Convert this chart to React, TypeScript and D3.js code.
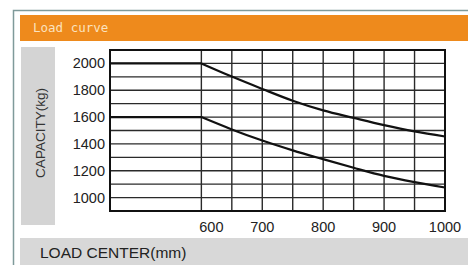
import React from "react";
import * as d3 from "d3";

// load center (mm); 450 stands for the left edge, the chart is compressed below 600
const loadCenters = [450, 600, 650, 700, 750, 800, 850, 900, 950, 1000];
const upperCapacity = [2000, 2000, 1902, 1810, 1722, 1650, 1594, 1540, 1493, 1455];
const lowerCapacity = [1600, 1600, 1508, 1425, 1352, 1286, 1222, 1162, 1115, 1075];

const xGrid = [600, 650, 700, 750, 800, 850, 900, 950];
const xTickLabels = [600, 700, 800, 900, 1000];
const yGrid = [1000, 1100, 1200, 1300, 1400, 1500, 1600, 1700, 1800, 1900, 2000];
const yTickLabels = [1000, 1200, 1400, 1600, 1800, 2000];

const title = "Load curve";
const yTitle = "CAPACITY(kg)";
const xTitle = "LOAD CENTER(mm)";

export default function App() {
  const width = 468;
  const height = 265;
  const plot = { left: 110, right: 445, top: 50, bottom: 211 };

  const xScale = d3.scaleLinear().domain([450, 1000]).range([plot.left, plot.right]);
  const yScale = d3.scaleLinear().domain([900, 2100]).range([plot.bottom, plot.top]);

  const curve = d3
    .line<[number, number]>()
    .x((d) => xScale(d[0]))
    .y((d) => yScale(d[1]))
    .curve(d3.curveMonotoneX);

  // flat part up to 600 drawn straight, the rest as a smooth curve
  const series = [upperCapacity, lowerCapacity].map((vals) =>
    loadCenters.map((x, i) => [x, vals[i]] as [number, number])
  );

  const gridColor = "#2a2a2a";
  const numFont = "'Liberation Sans', Arial, sans-serif";

  return (
    <svg
      width={width}
      height={height}
      style={{ position: "absolute", left: 0, top: 0, background: "#fff" }}
    >
      {/* outer frame */}
      <path d={`M13.5 ${height} V10.5 H${width}`} stroke="#7f9a9a" strokeWidth={1.5} fill="none" />

      {/* header bar */}
      <rect x={20} y={15} width={width - 20} height={26} fill="#ee8a1c" />
      <text
        x={33}
        y={32}
        fill="#fbe2bf"
        style={{ fontFamily: "'DejaVu Sans Mono', monospace", fontSize: "12.5px" }}
      >
        {title}
      </text>

      {/* y title bar */}
      <rect x={21} y={47} width={34} height={178} fill="#d4d4d4" />
      <text
        transform={`translate(45,133) rotate(-90)`}
        textAnchor="middle"
        fill="#333"
        style={{ fontFamily: numFont, fontSize: "13.5px" }}
      >
        {yTitle}
      </text>

      {/* x title bar */}
      <rect x={20} y={238} width={width - 20} height={height - 238} fill="#d8d8d8" />
      <text x={40} y={258} fill="#222" style={{ fontFamily: numFont, fontSize: "15.5px" }}>
        {xTitle}
      </text>

      {/* grid */}
      <g stroke={gridColor} strokeWidth={1.4}>
        {yGrid.map((v) => (
          <line key={"h" + v} x1={plot.left} x2={plot.right} y1={yScale(v)} y2={yScale(v)} />
        ))}
        {xGrid.map((v) => (
          <line key={"v" + v} x1={xScale(v)} x2={xScale(v)} y1={plot.top} y2={plot.bottom} />
        ))}
      </g>
      <rect
        x={plot.left}
        y={plot.top}
        width={plot.right - plot.left}
        height={plot.bottom - plot.top}
        fill="none"
        stroke="#111"
        strokeWidth={2}
      />

      {/* curves */}
      {series.map((pts, i) => (
        <g key={"s" + i} stroke="#111" strokeWidth={2.2} fill="none">
          <path d={d3.line()(pts.slice(0, 2).map((d) => [xScale(d[0]), yScale(d[1])])) || ""} />
          <path d={curve(pts.slice(1)) || ""} />
        </g>
      ))}

      {/* tick labels */}
      <g style={{ fontFamily: numFont, fontSize: "14.5px" }} fill="#222">
        {yTickLabels.map((v) => (
          <text key={"yl" + v} x={105} y={yScale(v) + 5} textAnchor="end">
            {v}
          </text>
        ))}
        {xTickLabels.map((v) => (
          <text key={"xl" + v} x={xScale(v) + (v === 600 ? 10 : 0)} y={232} textAnchor="middle">
            {v}
          </text>
        ))}
      </g>
    </svg>
  );
}
